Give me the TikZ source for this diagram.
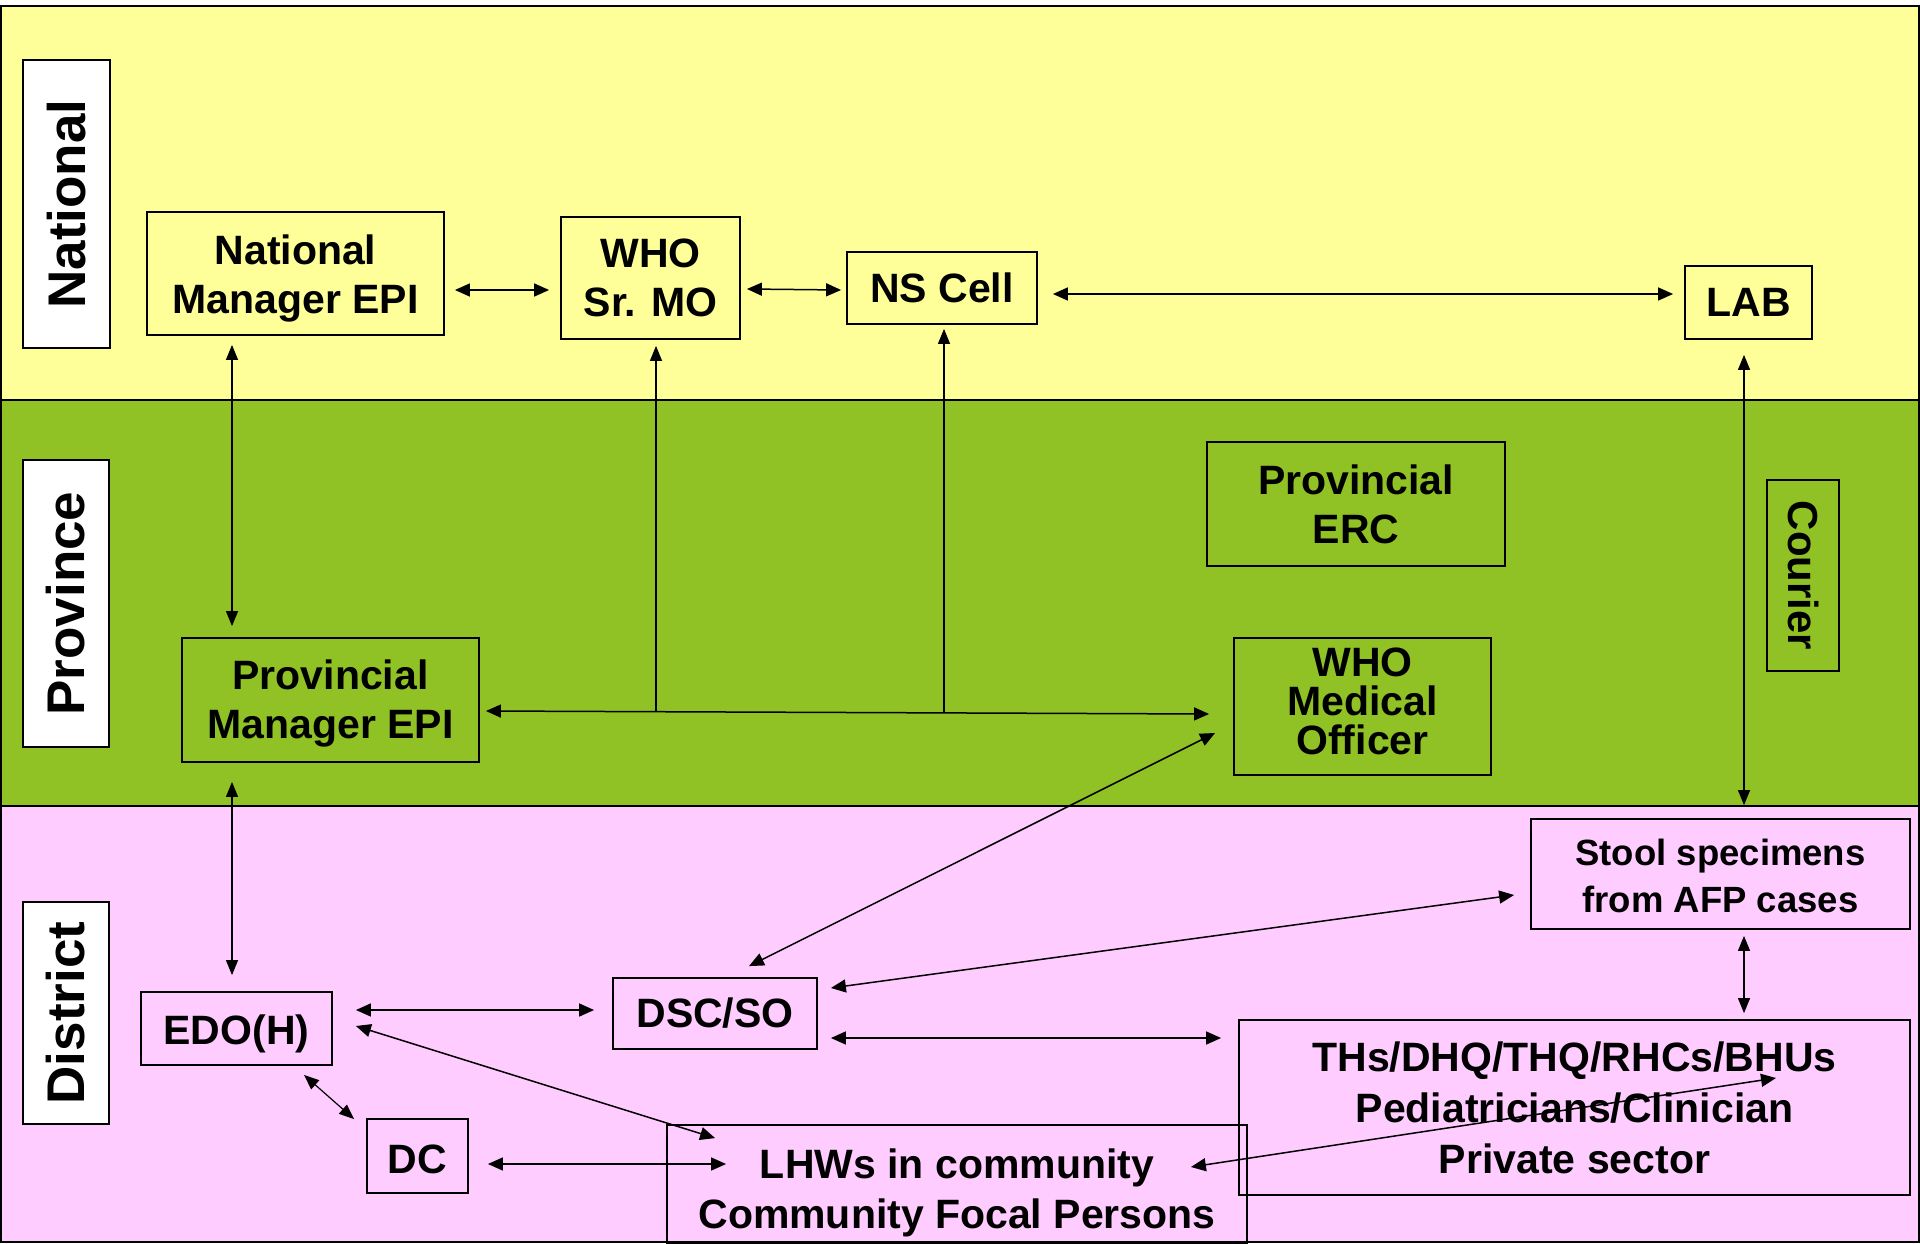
\documentclass[tikz,border=0pt]{standalone}
\usepackage{fontspec}
\setmainfont{Liberation Sans}
\usetikzlibrary{arrows.meta,calc}
\definecolor{natbg}{HTML}{FFFF99}
\definecolor{provbg}{HTML}{90C226}
\definecolor{distbg}{HTML}{FFCCFF}
% invisible rules to sit the lines as on the slide
\newcommand{\padtop}[1]{\rule{0pt}{#1}}
\newcommand{\padbot}[1]{\rule[-#1]{0pt}{0pt}}
\tikzset{
  band/.style={draw=black, line width=2.2pt},
  box/.style={draw=black, line width=1.8pt, inner sep=0pt, align=center,
    font=\bfseries\fontsize{41}{49}\selectfont},
  tier/.style={draw=black, fill=white, line width=1.8pt, inner sep=0pt, rotate=90,
    font=\bfseries\fontsize{53}{60}\selectfont},
  link/.style={line width=1.5pt, {Triangle[length=15pt,width=13pt]}-{Triangle[length=15pt,width=13pt]}},
  vlink/.style={line width=1.2pt, {Triangle[length=15pt,width=12pt]}-{Triangle[length=15pt,width=12pt]}},
  uplink/.style={line width=1.2pt, -{Triangle[length=15pt,width=12pt]}}
}

\begin{document}
\begin{tikzpicture}[x=1pt,y=-1pt]
  \useasboundingbox (0,0) rectangle (1920,1244);

  % levels
  \fill[natbg] (1,6) rectangle (1919,400);
  \fill[provbg] (1,400) rectangle (1919,806);
  \fill[distbg] (1,806) rectangle (1919,1242);

  \node[tier, minimum width=288pt, minimum height=87pt] (natlab) at (66.5,204) {National};
  \node[tier, minimum width=287pt, minimum height=86pt] (provlab) at (66,603.5) {Province};
  \node[tier, minimum width=222pt, minimum height=86pt] (distlab) at (66,1013) {District};

  % national
  \node[box, minimum width=297pt, minimum height=123pt] (natmgr) at (295.5,273.5) {\padtop{40pt}National\\Manager EPI};
  \node[box, minimum width=179pt, minimum height=122pt] (whosr) at (650.5,278) {WHO\\Sr. MO};
  \node[box, minimum width=190pt, minimum height=72pt] (nscell) at (942,288) {NS Cell};
  \node[box, minimum width=127pt, minimum height=73pt] (lab) at (1748.5,302.5) {LAB};

  % province
  \node[box, minimum width=298pt, minimum height=124pt] (proverc) at (1356,504) {Provincial\\ERC};
  \node[box, minimum width=297pt, minimum height=124pt] (provmgr) at (330.5,700) {\padtop{37.5pt}Provincial\\Manager EPI};
  \node[box, minimum width=257pt, minimum height=137pt,
    font=\bfseries\fontsize{41}{39}\selectfont] (whomed) at (1362.5,706.5) {WHO\\Medical\\Officer\padbot{11pt}};
  \node[box, minimum width=191pt, minimum height=72pt, rotate=-90,
    font=\bfseries\fontsize{42}{48}\selectfont] (courier) at (1803,575.5) {Courier};

  % district
  \node[box, minimum width=379pt, minimum height=110pt,
    font=\bfseries\fontsize{36.5}{46.5}\selectfont] (stool) at (1720.5,874) {\padtop{30pt}Stool specimens\\from AFP cases};
  \node[box, minimum width=671pt, minimum height=175pt,
    font=\bfseries\fontsize{41}{51}\selectfont] (ths) at (1574.5,1107.5) {THs/DHQ/THQ/RHCs/BHUs\\Pediatricians/Clinician\\Private sector};
  \node[box, minimum width=191pt, minimum height=73pt] (edoh) at (236.5,1028.5) {\padtop{40pt}EDO(H)};
  \node[box, minimum width=204pt, minimum height=71pt] (dscso) at (715,1013.5) {DSC/SO};
  \node[box, minimum width=101pt, minimum height=74pt] (dc) at (417.5,1156) {\padtop{34.5pt}DC};
  \node[box, minimum width=580pt, minimum height=118pt,
    font=\bfseries\fontsize{41}{50}\selectfont] (lhws) at (957,1184) {\padtop{46.6pt}LHWs in community\\Community Focal Persons};

  \draw[band] (1,6) rectangle (1919,1242);
  \draw[band] (1,400) -- (1919,400);
  \draw[band] (1,806) -- (1919,806);

  \coordinate (j1) at (656,711.8);
  \coordinate (j2) at (944,712.9);

  \draw[link] ([shift={(10,16.5)}]natmgr.east) -- ([shift={(-11,12)}]whosr.west);
  \draw[link] ([shift={(6,11)}]whosr.east) -- ([shift={(-5,2)}]nscell.west);
  \draw[link] ([shift={(15,6)}]nscell.east) -- ([shift={(-11,-8.5)}]lab.west);
  \draw[vlink] ([shift={(-63.5,9)}]natmgr.south) -- ([shift={(-98.5,-11)}]provmgr.north);
  \draw[link] ([shift={(6,11)}]provmgr.east) -- ([shift={(-24,7.5)}]whomed.west);
  \draw[uplink] (j1) -- ([shift={(5.5,6)}]whosr.south);
  \draw[uplink] (j2) -- ([shift={(2,4)}]nscell.south);
  \draw[vlink] ([shift={(-98.5,19)}]provmgr.south) -- ([shift={(-4.5,-16)}]edoh.north);
  \draw[vlink] ([shift={(-4.5,15)}]lab.south) -- ([shift={(23.5,-13)}]stool.north);
  \draw[link] ([shift={(-18,26.5)}]whomed.west) -- ([shift={(34,-11)}]dscso.north);
  \draw[link] ([shift={(-16,21)}]stool.west) -- ([shift={(13,-25.5)}]dscso.east);
  \draw[vlink] ([shift={(23.5,6)}]stool.south) -- ([shift={(169.5,-6)}]ths.north);
  \draw[link] ([shift={(13,24.5)}]dscso.east) -- ([shift={(-17,-69.5)}]ths.west);
  \draw[link] ([shift={(23,-18.5)}]edoh.east) -- ([shift={(-18,-3.5)}]dscso.west);
  \draw[link] ([shift={(23,-2.5)}]edoh.east) -- ([shift={(49,14)}]lhws.north west);
  \draw[vlink] ([shift={(67.5,9)}]edoh.south) -- ([shift={(-12,1)}]dc.north west);
  \draw[link] ([shift={(19,8)}]dc.east) -- ([shift={(60,-20)}]lhws.west);
  \draw[link] ([shift={(-57,-17)}]lhws.east) -- ([shift={(201.5,-29.5)}]ths.center);
\end{tikzpicture}
\end{document}
